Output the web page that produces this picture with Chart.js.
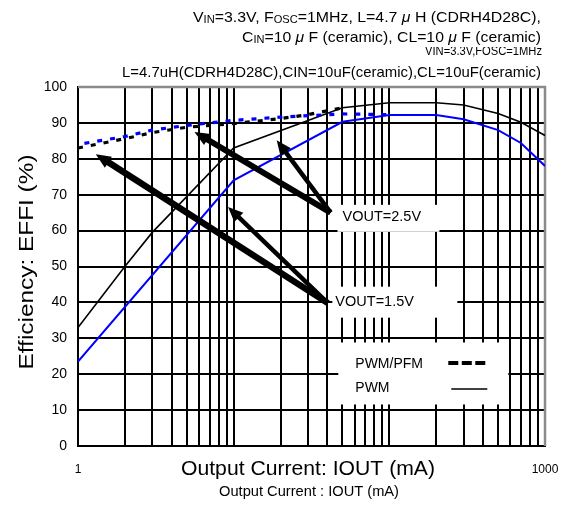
<!DOCTYPE html>
<html><head><meta charset="utf-8">
<script src="https://cdn.jsdelivr.net/npm/chart.js@4.4.0/dist/chart.umd.min.js"></script>
<style>html,body{margin:0;padding:0;background:#fff;}#wrap{width:562px;height:506px;}</style>
</head><body><div id="wrap"><canvas id="c" width="562" height="506"></canvas></div>
<script>
const FONT = '"Liberation Sans", Arial, sans-serif';

// ---- data (IOUT in mA, efficiency in %) ----
const ioutPwm25 = [1, 2, 3, 10, 50, 100, 200, 300, 500, 700, 1000];
const effPwm25  = [33, 50, 59.5, 83, 94.2, 95.6, 95.6, 95, 92.6, 90.2, 86.5];
const ioutPwm15 = [1, 10, 50, 100, 200, 300, 500, 700, 1000];
const effPwm15  = [23.5, 74, 90.3, 92.2, 92.2, 91, 88, 84.4, 78];
const ioutPfm25 = [1, 2, 3, 5, 10, 20, 30, 50];
const effPfm25  = [83, 85.6, 87.3, 88.8, 89.8, 91.2, 92.3, 94.2];
const ioutPfm15 = [1, 2, 3, 5, 7, 10, 20, 30, 50, 100];
const effPfm15  = [84, 86.2, 88, 89.3, 90, 90.7, 91.6, 92, 92.5, 92.3];

const xGridTicks = [1,2,3,4,5,6,7,8,9,10,20,30,40,50,60,70,80,90,100,200,300,400,500,600,700,800,900,1000];
const xTickLabels = [1, 1000];
const yTickValues = [0,10,20,30,40,50,60,70,80,90,100];

const legendLabels = ['PWM/PFM', 'PWM'];
const voutLabels = ['VOUT=2.5V', 'VOUT=1.5V'];
const voutAnchors = [[50, 63.7], [45, 40.2]];
const legendAnchor = [47, 20.2];

const arrowTails = [[42, 65], [42, 65], [40.3, 39.8], [40.3, 39.8]];
const arrowTips  = [[5.6, 87.5], [18.9, 85.2], [1.3, 81.3], [9.2, 66.6]];
const arrowWidths = [6, 4.5, 6.5, 4.5];

const titleLine1 = [['V'],['IN',1],['=3.3V, F'],['OSC',1],['=1MHz, L=4.7 '],['μ',2],[' H (CDRH4D28C),']];
const titleLine2 = [['C'],['IN',1],['=10 '],['μ',2],[' F (ceramic), CL=10 '],['μ',2],[' F (ceramic)']];
const titleLine3 = 'VIN=3.3V,FOSC=1MHz';
const titleLine4 = 'L=4.7uH(CDRH4D28C),CIN=10uF(ceramic),CL=10uF(ceramic)';
const yTitle = 'Efficiency: EFFI (%)';
const xTitle = 'Output Current: IOUT (mA)';
const xTitle2 = 'Output Current : IOUT (mA)';

function pts(xs, ys){ return xs.map((x,i)=>({x:x, y:ys[i]})); }

function richFit(ctx, segs, xl, xr, yb, size, sub){
  let w = 0;
  segs.forEach(s=>{ ctx.font = (s[1]===2?'italic ':'') + (s[1]===1?sub:size)+'px '+FONT; s.w = ctx.measureText(s[0]).width; w += s.w; });
  const f = (xr-xl)/w;
  ctx.save(); ctx.translate(xl, yb); ctx.scale(f,1);
  let x = 0;
  segs.forEach(s=>{ ctx.font = (s[1]===2?'italic ':'') + (s[1]===1?sub:size)+'px '+FONT; ctx.fillText(s[0], x, s[1]===1?1:0); x += s.w; });
  ctx.restore();
}
function textFit(ctx, t, cx, cy, size, width, rot){
  ctx.save(); ctx.font = size+'px '+FONT; ctx.textAlign='center'; ctx.textBaseline='middle';
  const w = ctx.measureText(t).width; ctx.translate(cx, cy); if (rot) ctx.rotate(rot);
  ctx.scale(width/w, 1); ctx.fillText(t, 0, 0); ctx.restore();
}
function arrow(ctx, x1,y1,x2,y2,w,hl,hw){
  const a = Math.atan2(y2-y1, x2-x1), c=Math.cos(a), s=Math.sin(a);
  const bx = x2-hl*c, by = y2-hl*s;
  ctx.lineWidth=w; ctx.lineCap='butt';
  ctx.beginPath(); ctx.moveTo(x1,y1); ctx.lineTo(bx+c, by+s); ctx.stroke();
  ctx.beginPath(); ctx.moveTo(x2,y2); ctx.lineTo(bx+hw/2*s, by-hw/2*c); ctx.lineTo(bx-hw/2*s, by+hw/2*c); ctx.closePath(); ctx.fill();
}

const overlay = {
  id:'overlay',
  beforeDatasetsDraw(chart){
    const {ctx, chartArea:a, scales:{x,y}} = chart;
    ctx.save();
    ctx.strokeStyle='#8a8a8a'; ctx.lineWidth=2.5;
    ctx.beginPath(); ctx.moveTo(a.left, a.top); ctx.lineTo(a.right, a.top); ctx.lineTo(a.right, a.bottom); ctx.stroke();
    const boxes = [[-5, 97, -12.5, 14.5], [-3, 122, -15, 16]];
    ctx.fillStyle='#000'; ctx.textBaseline='middle'; ctx.textAlign='left';
    voutLabels.forEach((t,i)=>{
      const px = x.getPixelForValue(voutAnchors[i][0]), py = y.getPixelForValue(voutAnchors[i][1]);
      const b = boxes[i];
      ctx.fillStyle='#fff'; ctx.fillRect(px+b[0], py+b[2], b[1]-b[0], b[3]-b[2]);
      ctx.fillStyle='#000'; ctx.font='14.5px '+FONT; ctx.fillText(t, px, py);
    });
    const lx = x.getPixelForValue(legendAnchor[0]), ly = y.getPixelForValue(legendAnchor[1]);
    ctx.fillStyle='#fff'; ctx.fillRect(lx, ly-31, 170, 62);
    ctx.fillStyle='#000'; ctx.font='14px '+FONT;
    ctx.fillText(legendLabels[0], lx+17, ly-9);
    ctx.fillText(legendLabels[1], lx+17, ly+15);
    ctx.strokeStyle='#000';
    ctx.lineWidth=4; ctx.setLineDash([10,3.5]);
    ctx.beginPath(); ctx.moveTo(lx+110, ly-10.5); ctx.lineTo(lx+150, ly-10.5); ctx.stroke();
    ctx.setLineDash([]); ctx.lineWidth=1.5;
    ctx.beginPath(); ctx.moveTo(lx+113, ly+15.5); ctx.lineTo(lx+149, ly+15.5); ctx.stroke();
    ctx.restore();
  },
  afterDatasetsDraw(chart){
    const {ctx, scales:{x,y}} = chart;
    ctx.save(); ctx.strokeStyle='#000'; ctx.fillStyle='#000';
    arrowTails.forEach((t,i)=>{
      arrow(ctx, x.getPixelForValue(t[0]), y.getPixelForValue(t[1]),
        x.getPixelForValue(arrowTips[i][0]), y.getPixelForValue(arrowTips[i][1]), arrowWidths[i], 15, 13);
    });
    ctx.restore();
  },
  afterDraw(chart){
    const ctx = chart.ctx;
    ctx.save(); ctx.fillStyle='#000'; ctx.textBaseline='alphabetic'; ctx.textAlign='left';
    ctx.font='12px '+FONT;
    const w3 = ctx.measureText(titleLine3).width;
    ctx.save(); ctx.translate(425, 55); ctx.scale(117/w3,1); ctx.fillText(titleLine3, 0, 0); ctx.restore();
    ctx.fillStyle='#fff'; ctx.fillRect(180, 28, 370, 19);
    ctx.fillStyle='#000';
    richFit(ctx, titleLine1, 193, 541, 22, 15, 10.5);
    richFit(ctx, titleLine2, 242, 541, 42, 15, 10.5);
    ctx.font='15px '+FONT;
    const w4 = ctx.measureText(titleLine4).width;
    ctx.save(); ctx.translate(122, 77); ctx.scale(419/w4,1); ctx.fillText(titleLine4, 0, 0); ctx.restore();
    textFit(ctx, yTitle, 27, 262, 20, 215, -Math.PI/2);
    textFit(ctx, xTitle, 308, 469, 21, 254, 0);
    textFit(ctx, xTitle2, 309, 492, 14, 180, 0);
    ctx.restore();
  }
};

new Chart(document.getElementById('c'), {
  type:'line',
  data:{ datasets:[
    {label:'PWM/PFM 1.5V', data:pts(ioutPfm15, effPfm15), borderColor:'#0000ff', borderWidth:3.2, borderDash:[5,8], borderDashOffset:6.5, pointRadius:0, fill:false},
    {label:'PWM/PFM 2.5V', data:pts(ioutPfm25, effPfm25), borderColor:'#000', borderWidth:3.2, borderDash:[5,8], pointRadius:0, fill:false},
    {label:'PWM 1.5V', data:pts(ioutPwm15, effPwm15), borderColor:'#0000ff', borderWidth:2, pointRadius:0, fill:false},
    {label:'PWM 2.5V', data:pts(ioutPwm25, effPwm25), borderColor:'#000', borderWidth:1.6, pointRadius:0, fill:false}
  ]},
  options:{
    responsive:false, animation:false, devicePixelRatio:1,
    layout:{padding:{top:87, right:17, left:0, bottom:0}},
    plugins:{legend:{display:false}, tooltip:{enabled:false}, title:{display:false}},
    scales:{
      x:{type:'logarithmic', min:1, max:1000,
        afterBuildTicks:s=>{ s.ticks = xGridTicks.map(v=>({value:v})); },
        afterFit:s=>{ s.height = 60; s.paddingLeft = 0; s.paddingRight = 0; },
        ticks:{autoSkip:false, maxRotation:0, minRotation:0, padding:16, color:'#000', font:{family:FONT, size:12},
          callback:(v)=> xTickLabels.includes(v) ? String(v) : ''},
        grid:{color:'#000', lineWidth:2, drawTicks:false},
        border:{color:'#000', width:2}
      },
      y:{min:0, max:100,
        afterBuildTicks:s=>{ s.ticks = yTickValues.map(v=>({value:v})); },
        afterFit:s=>{ s.width = 78; s.paddingTop = 0; s.paddingBottom = 0; },
        ticks:{padding:11, color:'#000', font:{family:FONT, size:14}},
        grid:{color:'#000', lineWidth:2, drawTicks:false},
        border:{color:'#000', width:2}
      }
    }
  },
  plugins:[overlay]
});
</script></body></html>
